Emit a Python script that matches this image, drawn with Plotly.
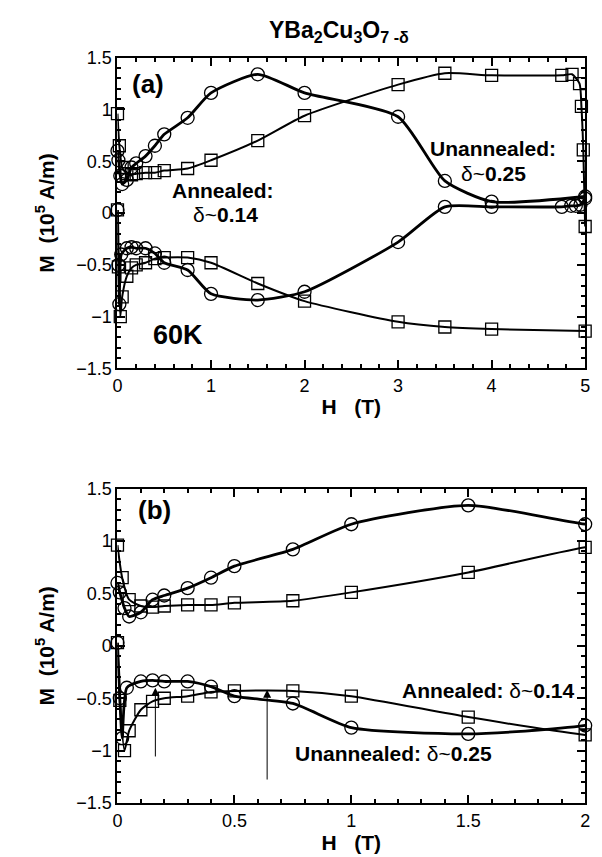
import numpy as np
import plotly.graph_objects as go

# ---------------- data ----------------
# Unannealed (circles), increasing-field branch
H_un_up = [0, 0.01, 0.02, 0.04, 0.1, 0.15, 0.2, 0.3, 0.4, 0.5, 0.75, 1.0, 1.5, 2.0, 3.0, 3.5, 4.0, 4.75, 4.85, 4.9, 4.95, 5.0]
M_un_up = [0.03, -0.5, -0.88, -0.40, -0.34, -0.33, -0.34, -0.34, -0.39, -0.48, -0.55, -0.78, -0.84, -0.76, -0.28, 0.06, 0.06, 0.06, 0.07, 0.07, 0.08, 0.14]
# Unannealed (circles), decreasing-field branch
H_un_dn = [5.0, 4.0, 3.5, 3.0, 2.0, 1.5, 1.0, 0.75, 0.5, 0.4, 0.3, 0.2, 0.15, 0.1, 0.05, 0.03, 0.01, 0.0]
M_un_dn = [0.16, 0.11, 0.31, 0.93, 1.16, 1.34, 1.16, 0.92, 0.76, 0.65, 0.55, 0.48, 0.44, 0.32, 0.28, 0.36, 0.51, 0.60]
# Annealed (squares), increasing-field branch
H_an_up = [0, 0.01, 0.03, 0.05, 0.1, 0.15, 0.2, 0.3, 0.4, 0.5, 0.75, 1.0, 1.5, 2.0, 3.0, 3.5, 4.0, 5.0]
M_an_up = [0.03, -0.52, -1.0, -0.81, -0.61, -0.53, -0.50, -0.48, -0.44, -0.43, -0.43, -0.48, -0.68, -0.85, -1.05, -1.10, -1.12, -1.14]
# Annealed (squares), decreasing-field branch
H_an_dn = [5.0, 4.98, 4.96, 4.94, 4.86, 4.75, 4.0, 3.5, 3.0, 2.0, 1.5, 1.0, 0.75, 0.5, 0.4, 0.3, 0.2, 0.15, 0.1, 0.05, 0.02, 0.0]
M_an_dn = [-0.13, 0.61, 1.03, 1.25, 1.34, 1.33, 1.33, 1.35, 1.24, 0.94, 0.70, 0.51, 0.43, 0.41, 0.39, 0.39, 0.38, 0.37, 0.38, 0.44, 0.65, 0.96]

# arrows in panel (b): (H, tip M, tail M)
arrow_H = [0.162, 0.640]
arrow_tip = [-0.40, -0.42]
arrow_tail = [-1.07, -1.29]

FONT = "Liberation Sans, Arial, Helvetica, sans-serif"

fig = go.Figure()

series = [
    (H_un_up, M_un_up, "circle-open", 13, 2.8),
    (H_un_dn, M_un_dn, "circle-open", 13, 2.8),
    (H_an_up, M_an_up, "square-open", 12, 2.0),
    (H_an_dn, M_an_dn, "square-open", 12, 2.0),
]

for (H, M, sym, size, lw) in series:
    # panel (a)
    fig.add_trace(go.Scatter(x=H, y=M, mode="lines+markers", xaxis="x", yaxis="y",
                             line=dict(color="black", width=lw, shape="spline", smoothing=0.6),
                             marker=dict(symbol=sym, size=size, color="black", line=dict(width=1.3)),
                             cliponaxis=False, showlegend=False))
    # panel (b) lines (clipped)
    fig.add_trace(go.Scatter(x=H, y=M, mode="lines", xaxis="x2", yaxis="y2",
                             line=dict(color="black", width=lw, shape="spline", smoothing=0.6),
                             showlegend=False))
    # panel (b) markers within range
    Ha = np.array(H); Ma = np.array(M)
    sel = Ha <= 2.0001
    fig.add_trace(go.Scatter(x=Ha[sel], y=Ma[sel], mode="markers", xaxis="x2", yaxis="y2",
                             marker=dict(symbol=sym, size=size, color="black", line=dict(width=1.3)),
                             cliponaxis=False, showlegend=False))

axis_common = dict(showline=True, linecolor="black", linewidth=2, mirror="ticks",
                   ticks="inside", ticklen=8, tickwidth=1.5, tickcolor="black",
                   showgrid=False, zeroline=False,
                   tickfont=dict(family=FONT, size=18, color="black"))

XT = dict(text="<b>H   (T)</b>", font=dict(family=FONT, size=21, color="black"), standoff=4)
YT = dict(text="<b>M  (10<sup>5</sup> A/m)</b>", font=dict(family=FONT, size=21, color="black"), standoff=16)

fig.update_layout(
    width=602, height=857,
    margin=dict(l=0, r=0, t=0, b=0),
    paper_bgcolor="white", plot_bgcolor="white",
    xaxis=dict(domain=[0.190, 0.980], anchor="y", range=[0, 5], dtick=1,
               minor=dict(dtick=0.2, ticklen=4, ticks="inside", tickcolor="black"),
               title=XT, **axis_common),
    yaxis=dict(domain=[0.5718, 0.943], anchor="x", range=[-1.5, 1.5], dtick=0.5,
               minor=dict(dtick=0.1, ticklen=4, ticks="inside", tickcolor="black"),
               title=YT, **axis_common),
    xaxis2=dict(domain=[0.190, 0.980], anchor="y2", range=[0, 2], dtick=0.5,
                minor=dict(dtick=0.1, ticklen=4, ticks="inside", tickcolor="black"),
                title=XT, **axis_common),
    yaxis2=dict(domain=[0.0525, 0.4282], anchor="x2", range=[-1.5, 1.5], dtick=0.5,
                minor=dict(dtick=0.1, ticklen=4, ticks="inside", tickcolor="black"),
                title=YT, **axis_common),
)

def txt(x, y, s, xr, yr, size=21, xanchor="center"):
    fig.add_annotation(x=x, y=y, xref=xr, yref=yr, text=s, showarrow=False,
                       xanchor=xanchor, font=dict(family=FONT, size=size, color="black"))

# title
fig.add_annotation(x=0.565, y=0.974, xref="paper", yref="paper", yanchor="middle",
                   text="<b>YBa<sub>2</sub>Cu<sub>3</sub>O<sub>7 -δ</sub></b>", showarrow=False,
                   font=dict(family=FONT, size=23, color="black"))

# panel (a) texts
txt(0.33, 1.25, "<b>(a)</b>", "x", "y", size=26)
txt(1.13, 0.22, "<b>Annealed:</b>", "x", "y")
txt(1.15, -0.01, "δ~<b>0.14</b>", "x", "y")
txt(4.01, 0.62, "<b>Unannealed:</b>", "x", "y")
txt(4.02, 0.38, "δ~<b>0.25</b>", "x", "y")
txt(0.65, -1.18, "<b>60K</b>", "x", "y", size=27)

# panel (b) texts
txt(0.157, 1.30, "<b>(b)</b>", "x2", "y2", size=26)
txt(1.966, -0.43, "<b>Annealed:</b> δ~<b>0.14</b>", "x2", "y2", xanchor="right")
txt(1.18, -1.03, "<b>Unannealed:</b> δ~<b>0.25</b>", "x2", "y2")

for h, tip, tail in zip(arrow_H, arrow_tip, arrow_tail):
    fig.add_annotation(x=h, y=tip, ax=h, ay=tail, xref="x2", yref="y2", axref="x2", ayref="y2",
                       showarrow=True, arrowhead=2, arrowsize=1.6, arrowwidth=1, arrowcolor="black", text="")

fig.write_html("out.html")
